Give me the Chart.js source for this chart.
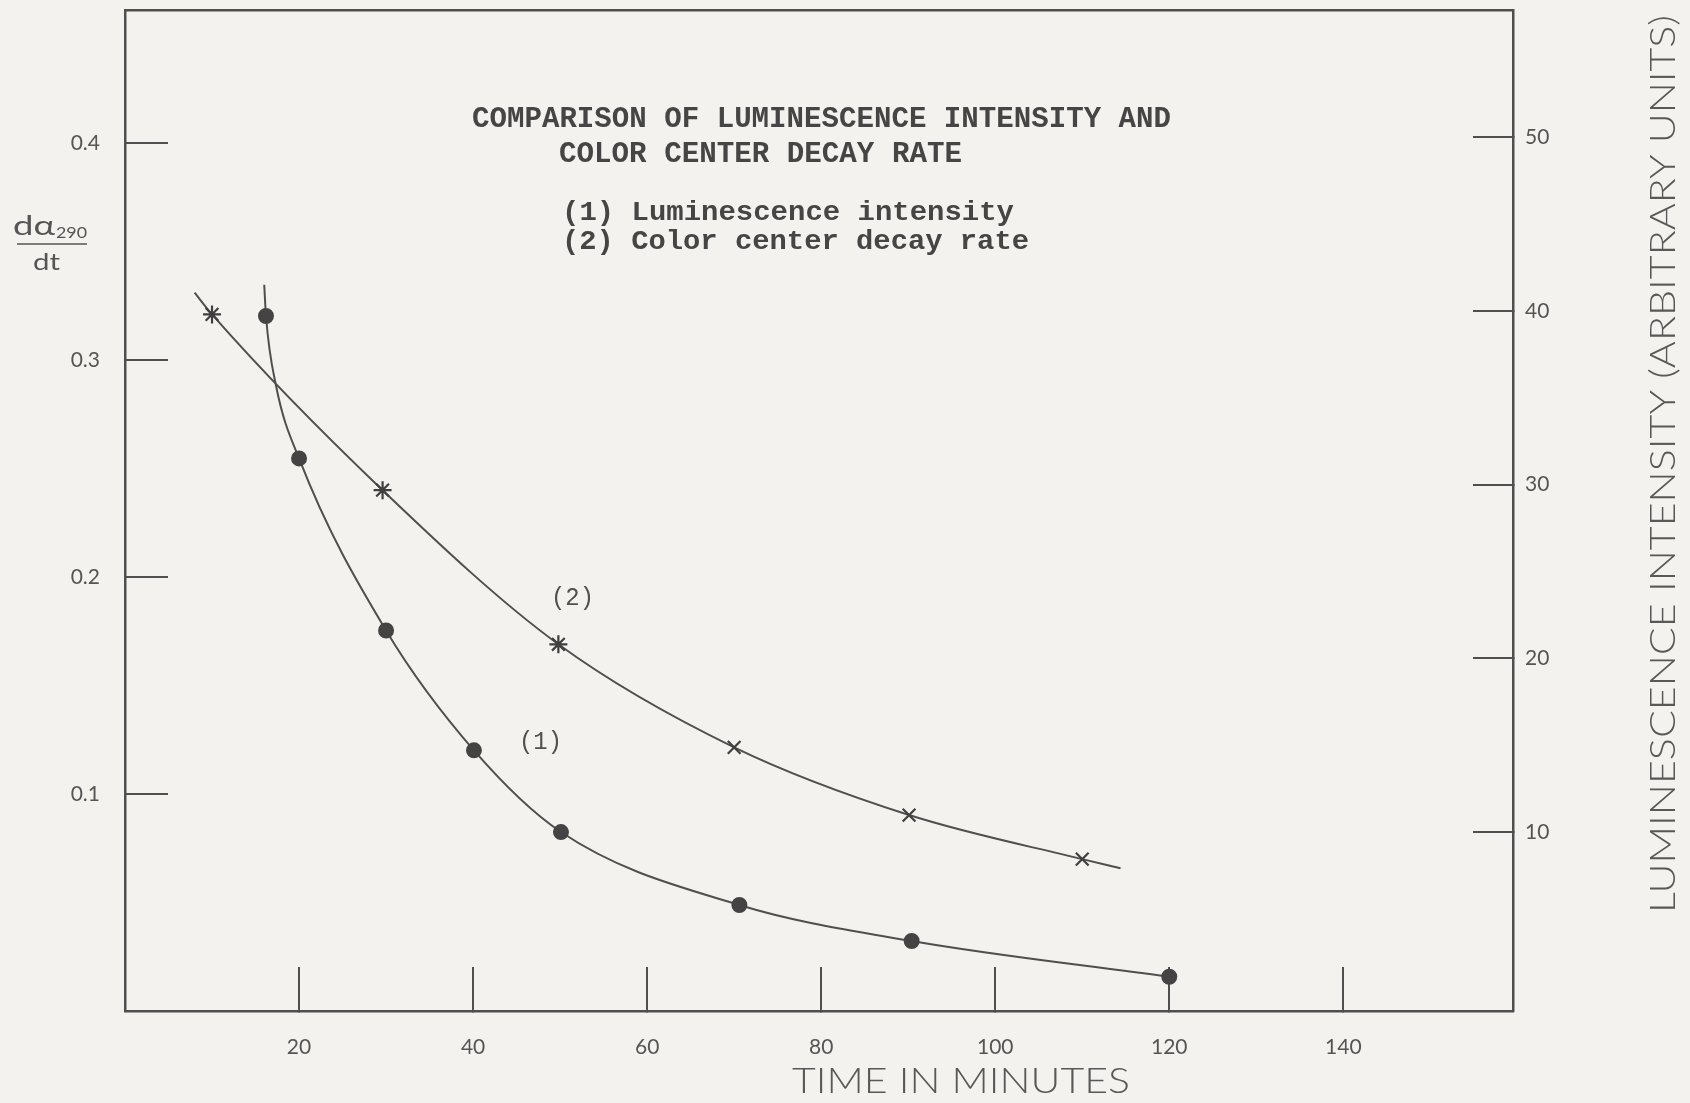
<!DOCTYPE html>
<html>
<head>
<meta charset="utf-8">
<script src="https://cdn.jsdelivr.net/npm/chart.js@4"></script>
<style>
html,body{margin:0;padding:0;background:#f3f2ee;}
#wrap{width:1690px;height:1103px;position:relative;}
</style>
</head>
<body>
<div id="wrap"><canvas id="c" width="1690" height="1103"></canvas></div>
<script>
// ---- data ----
// (1) Luminescence intensity (right axis, arbitrary units)
const lumTime  = [16.2, 20.0, 30.0, 40.1, 50.1, 70.6, 90.4, 120.0];
const lumValue = [39.7, 31.5, 21.6, 14.7, 10.0, 5.8, 3.73, 1.67];
const lumCurveStart = [16.0, 41.5];     // where the drawn curve begins
const lumCurveCross = [17.35, 35.7];    // where curve (1) crosses curve (2)
// (2) Color center decay rate (left axis, d(alpha290)/dt)
const decayTime  = [10.0, 29.6, 49.8, 70.0, 90.1, 110.0];
const decayValue = [0.321, 0.240, 0.169, 0.1215, 0.0903, 0.0700];
const decayCurveStart = [8.0, 0.331];   // where the drawn curve begins
const decayCurveEnd   = [114.4, 0.0658]; // where the drawn curve ends
// tick labels
const timeTicks = [20, 40, 60, 80, 100, 120, 140];
const rateTicks = [0.1, 0.2, 0.3, 0.4];
const rateTickLabels = ['0.1', '0.2', '0.3', '0.4'];
const lumTicks = [10, 20, 30, 40, 50];
// texts
const titleLines = ['COMPARISON OF LUMINESCENCE INTENSITY AND', 'COLOR CENTER DECAY RATE'];
const legendLines = ['(1) Luminescence intensity', '(2) Color center decay rate'];
const xTitle = 'TIME IN MINUTES';
const rightTitle = 'LUMINESCENCE INTENSITY (ARBITRARY UNITS)';

// ---- build datasets ----
const lumPts = lumTime.map((t, i) => ({x: t, y: lumValue[i], m: true}));
const lumData = [{x: lumCurveStart[0], y: lumCurveStart[1], m: false}, lumPts[0],
  {x: lumCurveCross[0], y: lumCurveCross[1], m: false}].concat(lumPts.slice(1));
const lumRadius = lumData.map(d => d.m ? 7 : 0);

const decayData = [{x: decayCurveStart[0], y: decayCurveStart[1]}]
  .concat(decayTime.map((t, i) => ({x: t, y: decayValue[i]})))
  .concat([{x: decayCurveEnd[0], y: decayCurveEnd[1]}]);
const decayRadius = decayData.map((d, i) => (i === 0 || i === decayData.length - 1) ? 0 : 9);
const decayStyle = decayData.map((d, i) => i <= 3 ? 'star' : 'crossRot');

const INK = '#4f4f4f';
const LETTER = "'Lato', 'DejaVu Sans', sans-serif";

function fitText(ctx, text, left, right, cy) {
  const w = ctx.measureText(text).width;
  const target = right - left;
  ctx.save();
  ctx.translate(left, cy);
  ctx.scale(target / w, 1);
  ctx.textAlign = 'left';
  ctx.textBaseline = 'middle';
  ctx.fillText(text, 0, 0);
  ctx.restore();
}

const textPlugin = {
  id: 'texts',
  afterDraw(chart) {
    const ctx = chart.ctx;
    ctx.save();
    ctx.fillStyle = '#454545';
    ctx.font = "bold 29px 'Liberation Mono', 'DejaVu Sans Mono', monospace";
    fitText(ctx, titleLines[0], 472, 1171, 120);
    fitText(ctx, titleLines[1], 559, 962, 155);
    ctx.font = "bold 28px 'Liberation Mono', 'DejaVu Sans Mono', monospace";
    fitText(ctx, legendLines[0], 562, 1014, 213);
    fitText(ctx, legendLines[1], 562, 1029, 242);
    ctx.font = "26px 'Liberation Mono', 'DejaVu Sans Mono', monospace";
    ctx.fillStyle = '#505050';
    fitText(ctx, '(2)', 551, 594, 598);
    fitText(ctx, '(1)', 519, 562, 742);

    // axis titles (hand lettering)
    ctx.fillStyle = '#585858';
    ctx.font = "300 36px " + LETTER;
    fitText(ctx, xTitle, 792, 1130, 1081);
    ctx.save();
    ctx.translate(1663, 465);
    ctx.rotate(-Math.PI / 2);
    fitText(ctx, rightTitle, -448, 450, 0);
    ctx.restore();

    // left axis fraction title
    ctx.fillStyle = '#555';
    ctx.font = "27px " + LETTER;
    fitText(ctx, 'd\u03b1', 13, 55, 226);
    ctx.font = "16px " + LETTER;
    fitText(ctx, '290', 56, 87, 233);
    ctx.strokeStyle = '#555';
    ctx.lineWidth = 1.6;
    ctx.beginPath();
    ctx.moveTo(17, 244);
    ctx.lineTo(87, 244);
    ctx.stroke();
    ctx.font = "23px " + LETTER;
    fitText(ctx, 'dt', 33, 60, 263);
    ctx.restore();
  }
};

const tickFont = {family: LETTER, size: 21, weight: '400'};
const TICKCOL = '#555';
const noPad = s => { s.paddingTop = 0; s.paddingBottom = 0; s.paddingLeft = 0; s.paddingRight = 0; };

new Chart(document.getElementById('c'), {
  type: 'line',
  data: {
    datasets: [
      {
        label: 'Luminescence intensity',
        data: lumData,
        yAxisID: 'yR',
        xAxisID: 'x',
        borderColor: INK,
        borderWidth: 2,
        backgroundColor: '#444',
        pointBackgroundColor: '#444',
        pointBorderColor: '#444',
        pointStyle: 'circle',
        pointRadius: lumRadius,
        pointHoverRadius: lumRadius,
        cubicInterpolationMode: 'monotone',
        fill: false
      },
      {
        label: 'Color center decay rate',
        data: decayData,
        yAxisID: 'yL',
        xAxisID: 'x',
        borderColor: INK,
        borderWidth: 2,
        pointBorderColor: '#3f3f3f',
        pointBackgroundColor: '#3f3f3f',
        pointBorderWidth: 2.2,
        pointStyle: decayStyle,
        pointRadius: decayRadius,
        pointHoverRadius: decayRadius,
        cubicInterpolationMode: 'monotone',
        fill: false
      }
    ]
  },
  options: {
    responsive: false,
    animation: false,
    devicePixelRatio: 1,
    events: [],
    layout: {padding: {top: 10, left: 0, right: 0, bottom: 0}},
    plugins: {
      legend: {display: false},
      title: {display: false},
      tooltip: {enabled: false}
    },
    scales: {
      x: {
        type: 'linear',
        position: 'bottom',
        min: 0,
        max: 159.5,
        afterBuildTicks: s => { s.ticks = timeTicks.map(v => ({value: v})); },
        afterFit: s => { s.height = 92; noPad(s); },
        ticks: {font: tickFont, color: TICKCOL, padding: 68, maxRotation: 0, autoSkip: false},
        grid: {drawOnChartArea: false, drawTicks: true, tickLength: -44, color: INK, lineWidth: 2},
        border: {display: true, color: INK, width: 2.5}
      },
      xTop: {
        type: 'linear',
        position: 'top',
        min: 0,
        max: 159.5,
        afterFit: s => { s.height = 0; noPad(s); },
        ticks: {display: false},
        grid: {display: false, drawTicks: false},
        border: {display: true, color: INK, width: 2.5}
      },
      yL: {
        type: 'linear',
        position: 'left',
        min: 0,
        max: 0.4613,
        afterBuildTicks: s => { s.ticks = rateTicks.map(v => ({value: v})); },
        afterFit: s => { s.width = 125; noPad(s); },
        ticks: {
          font: tickFont, color: TICKCOL, padding: 68, autoSkip: false,
          callback: (v) => { const i = rateTicks.indexOf(v); return i >= 0 ? rateTickLabels[i] : ''; }
        },
        grid: {drawOnChartArea: false, drawTicks: true, tickLength: -43, color: INK, lineWidth: 2},
        border: {display: true, color: INK, width: 2.5}
      },
      yR: {
        type: 'linear',
        position: 'right',
        min: -0.3,
        max: 57.31,
        afterBuildTicks: s => { s.ticks = lumTicks.map(v => ({value: v})); },
        afterFit: s => { s.width = 177; noPad(s); },
        ticks: {font: tickFont, color: TICKCOL, padding: 52, autoSkip: false},
        grid: {drawOnChartArea: false, drawTicks: true, tickLength: -40, color: INK, lineWidth: 2},
        border: {display: true, color: INK, width: 2.5}
      }
    }
  },
  plugins: [textPlugin]
});
</script>
</body>
</html>
